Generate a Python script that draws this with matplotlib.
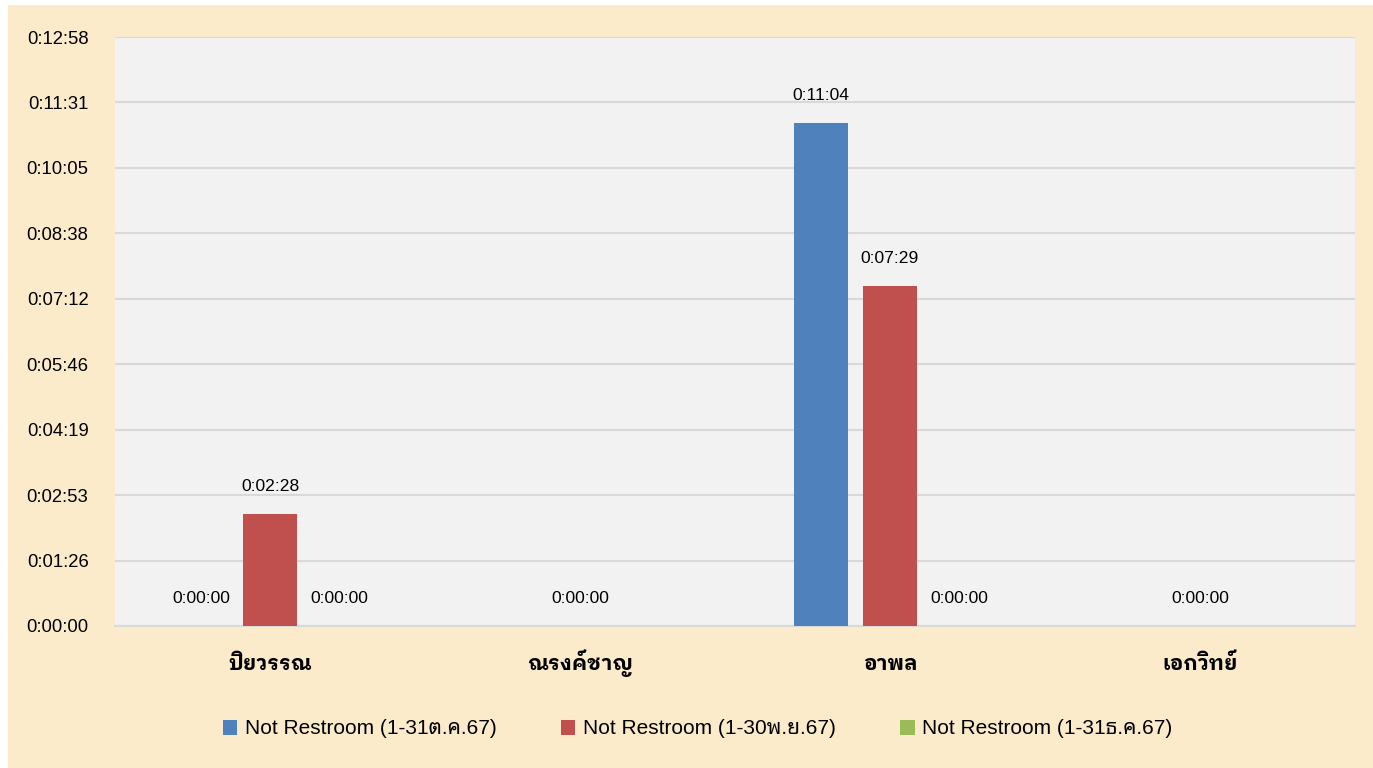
"""
Restroom-away time per staff member, three monthly periods.
"""

import numpy as np
import matplotlib
matplotlib.use("Agg")
import matplotlib.pyplot as plt
from matplotlib.patches import Rectangle
from matplotlib.ticker import FuncFormatter, MultipleLocator

plt.rcParams["font.family"] = ["Liberation Sans", "Noto Sans Thai Looped",
                               "DejaVu Sans"]

# staff names along the x axis
names = ["ปิยวรรณ", "ณรงค์ชาญ", "อาพล", "เอกวิทย์"]

# durations as h:mm:ss, None where no record exists
oct_times = ["0:00:00", None, "0:11:04", None]
nov_times = ["0:02:28", "0:00:00", "0:07:29", "0:00:00"]
dec_times = ["0:00:00", None, "0:00:00", None]

series_labels = ["Not Restroom (1-31ต.ค.67)",
                 "Not Restroom (1-30พ.ย.67)",
                 "Not Restroom (1-31ธ.ค.67)"]
colors = ["#4F81BD", "#C0504D", "#9BBB59"]


def to_seconds(t):
    if t is None:
        return np.nan
    h, m, s = (int(p) for p in t.split(":"))
    return h * 3600 + m * 60 + s


def fmt_hms(sec, pos=None):
    sec = int(round(sec))
    return f"{sec // 3600}:{sec % 3600 // 60:02d}:{sec % 60:02d}"


def main():
    fig = plt.figure(figsize=(13.73, 7.68), dpi=100)
    fig.patch.set_facecolor("white")
    # parchment panel behind the chart
    fig.patches.append(Rectangle((8 / 1373, 0), 1 - 8 / 1373, 1 - 5 / 768,
                                 transform=fig.transFigure,
                                 facecolor="#FBEBCB", edgecolor="none", zorder=-1))

    ax = fig.add_axes([115 / 1373, 1 - 626 / 768, 1240 / 1373, 589 / 768])
    ax.set_zorder(1)
    ax.set_facecolor("#F2F2F2")

    x = np.arange(len(names))
    width = 0.174
    step = 0.222
    all_times = [oct_times, nov_times, dec_times]
    for i, (times, lab, col) in enumerate(zip(all_times, series_labels, colors)):
        vals = np.array([to_seconds(t) for t in times], dtype=float)
        pos = x + (i - 1) * step
        ax.bar(pos, np.nan_to_num(vals), width, color=col, label=lab, zorder=3)
        for px, v in zip(pos, vals):
            if np.isnan(v):
                continue
            ax.annotate(fmt_hms(v), (px, v), xytext=(0, 19.5),
                        textcoords="offset points", ha="center", va="center",
                        fontsize=12.6, color="#000000")

    unit = 86.4  # 0.001 day
    ax.set_ylim(0, unit * 9)
    ax.set_xlim(-0.5, len(names) - 0.5)
    ax.yaxis.set_major_locator(MultipleLocator(unit))
    ax.yaxis.set_major_formatter(FuncFormatter(fmt_hms))
    ax.grid(axis="y", color="#D9D9D9", linewidth=1.5, zorder=0)
    ax.set_axisbelow(True)

    ax.set_xticks(x)
    ax.set_xticklabels(names, fontsize=15, fontweight="bold",
                       family=["IBM Plex Sans Thai Looped", "DejaVu Sans"],
                       va="baseline")
    ax.tick_params(axis="x", length=0, pad=32)
    ax.tick_params(axis="y", length=0, pad=19, labelsize=13.3)

    for side in ["top", "right", "left"]:
        ax.spines[side].set_visible(False)
    ax.spines["bottom"].set_color("#D9D9D9")
    ax.spines["bottom"].set_linewidth(1.5)

    fig.legend(loc="center", bbox_to_anchor=(0.508, 1 - 729 / 768), ncol=3,
               frameon=False, fontsize=15, handlelength=0.7,
               handleheight=0.7, handletextpad=0.35, columnspacing=3.1)

    fig.savefig("out.png", dpi=100, facecolor=fig.get_facecolor())


if __name__ == "__main__":
    main()
